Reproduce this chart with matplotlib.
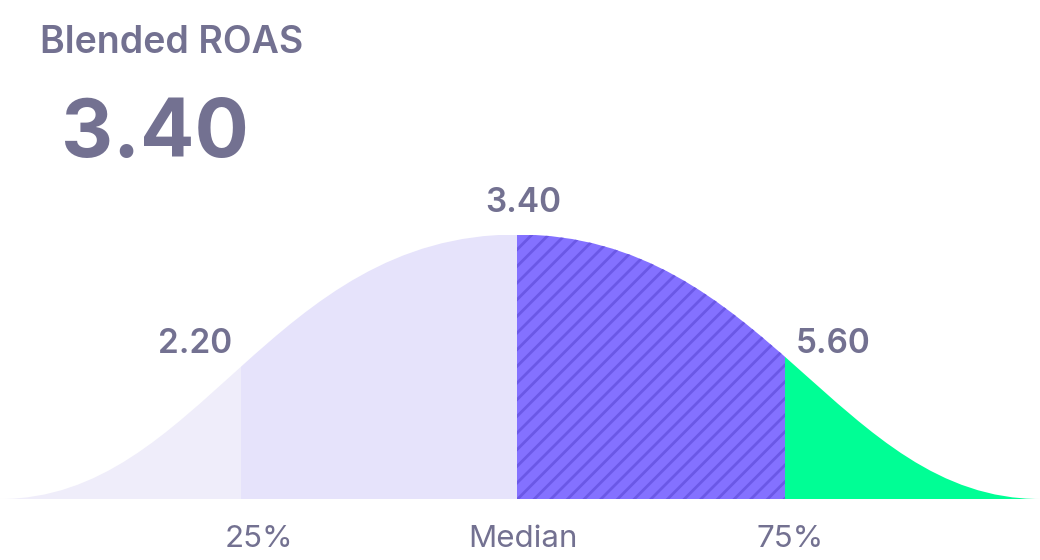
import matplotlib
matplotlib.use("Agg")
import matplotlib.pyplot as plt
from matplotlib.path import Path
from matplotlib.patches import PathPatch

# datos
title = "Blended ROAS"
headline_value = 3.40
percentile_labels = ["25%", "Median", "75%"]
percentile_values = [2.20, 3.40, 5.60]

# layout (fracciones del ancho del eje)
seg_bounds = [0.0, 0.232, 0.497, 0.755, 1.0]
seg_colors = ["#efedfa", "#e6e3fb", "#8471ff", "#00fe95"]
text_color = "#737191"

plt.rcParams["font.family"] = ["Inter", "DejaVu Sans"]
plt.rcParams["hatch.linewidth"] = 2.0

W, H = 1040, 560
fig = plt.figure(figsize=(W / 100, H / 100), dpi=100)
ax = fig.add_axes([0, (H - 499) / H, 1, 264.5 / H])
ax.set_xlim(0, 1)
ax.set_ylim(0, 1)
ax.axis("off")

# curva en forma de campana (bezier)
peak = seg_bounds[2]
lw_, rw_ = peak, 1 - peak
verts = [(0, 0),
         (0.192, 0), (0.26, 1), (peak, 1),
         (peak + (peak - 0.26) * rw_ / lw_, 1), (peak + (peak - 0.192) * rw_ / lw_, 0), (1, 0),
         (0, 0)]
codes = [Path.MOVETO,
         Path.CURVE4, Path.CURVE4, Path.CURVE4,
         Path.CURVE4, Path.CURVE4, Path.CURVE4,
         Path.CLOSEPOLY]
curve = PathPatch(Path(verts, codes), facecolor="none", edgecolor="none", transform=ax.transData)
ax.add_patch(curve)

for i, c in enumerate(seg_colors):
    kw = dict(facecolor=c, linewidth=0)
    if i == 2:
        kw.update(hatch="//", edgecolor="#6b58e6")
    span = ax.axvspan(seg_bounds[i], seg_bounds[i + 1], **kw)
    span.set_clip_path(curve)


def px(x, y):
    return x / W, 1 - y / H


fig.text(*px(40, 53), title, fontsize=27, fontweight="semibold", color=text_color, va="baseline")
fig.text(*px(61, 157), f"{headline_value:.2f}", fontsize=58, fontweight="bold", color=text_color, va="baseline")

# valores de percentiles
val_pos = [(195, 353), (523, 212), (833, 353)]
for v, (x, y) in zip(percentile_values, val_pos):
    fig.text(*px(x, y), f"{v:.2f}", fontsize=24, fontweight="semibold", color=text_color,
             ha="center", va="baseline")

# etiquetas inferiores
lab_pos = [259, 523, 790]
for lab, x in zip(percentile_labels, lab_pos):
    fig.text(*px(x, 547), lab, fontsize=22.5, color=text_color, ha="center", va="baseline")

fig.savefig("out.png", dpi=100, facecolor="white")
